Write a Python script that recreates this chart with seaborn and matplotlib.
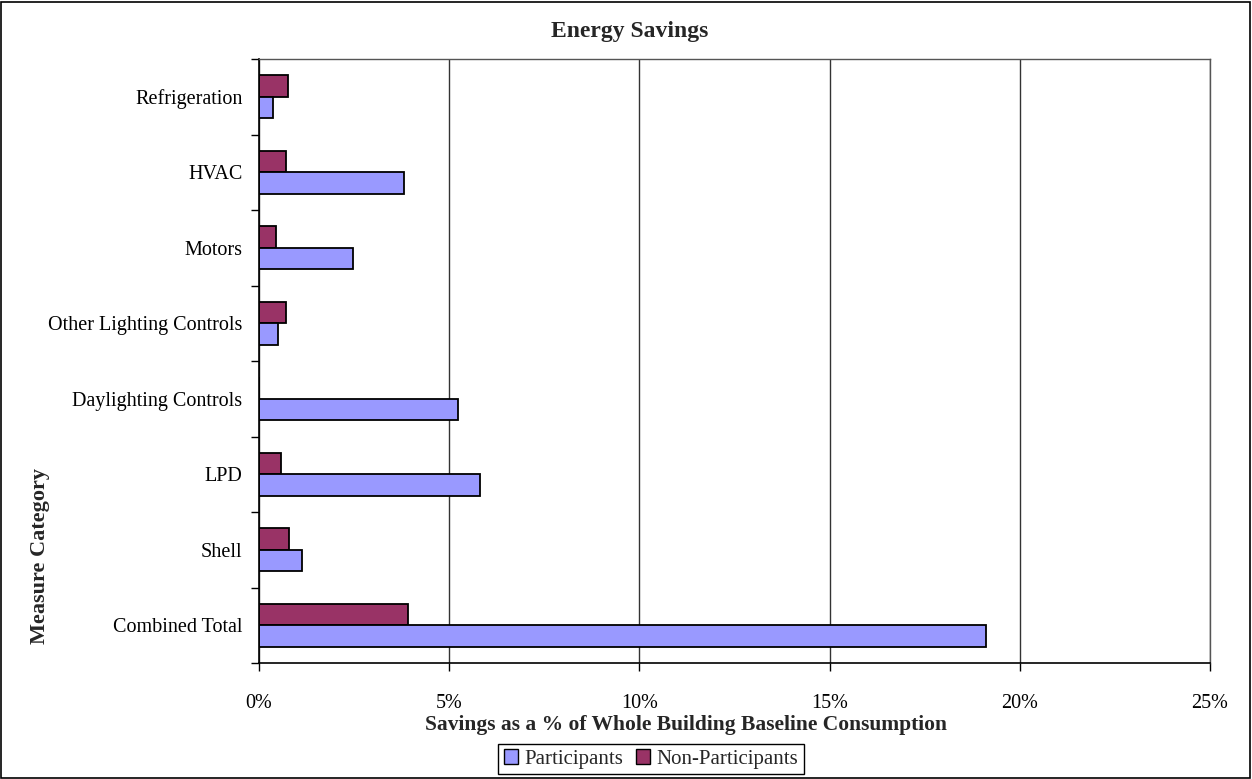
import matplotlib
matplotlib.use("Agg")
import matplotlib.pyplot as plt
from matplotlib.patches import Rectangle, Patch
from matplotlib.ticker import PercentFormatter, FixedLocator
import seaborn as sns
import pandas as pd

categories = ["Refrigeration", "HVAC", "Motors", "Other Lighting Controls",
              "Daylighting Controls", "LPD", "Shell", "Combined Total"]
participants = [0.37, 3.82, 2.46, 0.50, 5.22, 5.80, 1.12, 19.1]
non_participants = [0.76, 0.71, 0.46, 0.71, 0.0, 0.59, 0.78, 3.92]
x_ticks = [0, 5, 10, 15, 20, 25]

series_order = ["Non-Participants", "Participants"]
palette = {"Participants": "#9999FF", "Non-Participants": "#993366"}

df = pd.DataFrame({
    "Measure Category": categories * 2,
    "Savings": participants + non_participants,
    "Group": ["Participants"] * len(categories) + ["Non-Participants"] * len(categories),
})

sns.set_theme(style="white")
plt.rcParams["font.family"] = ["Liberation Serif", "DejaVu Serif"]

fig = plt.figure(figsize=(12.52, 7.79), dpi=100)
ax = fig.add_axes([259 / 1252, 1 - 663 / 779, (1210 - 259) / 1252, (663 - 59) / 779])

sns.barplot(data=df, y="Measure Category", x="Savings", hue="Group",
            hue_order=series_order, order=categories, palette=palette,
            orient="h", width=0.57, errorbar=None, edgecolor="black",
            linewidth=1.3, saturation=1, legend=False, ax=ax)

ax.set_xlim(0, 25)
ax.set_ylim(len(categories) - 0.5, -0.5)
ax.xaxis.set_major_locator(FixedLocator(x_ticks))
ax.xaxis.set_major_formatter(PercentFormatter(decimals=0))
ax.grid(axis="x", color="#333333", linewidth=1.0)
ax.grid(axis="y", visible=False)
ax.set_axisbelow(True)

# category boundary ticks on the category axis
ax.yaxis.set_minor_locator(FixedLocator([i + 0.5 for i in range(-1, len(categories))]))
ax.tick_params(axis="y", which="major", length=0, pad=12, labelsize=14.5, colors="black")
ax.tick_params(axis="y", which="minor", left=True, length=6, width=1, color="black")
ax.tick_params(axis="x", which="major", bottom=True, length=6, width=1, pad=16,
               labelsize=14.5, colors="black", color="black")
ax.set_xlabel("")
ax.set_ylabel("")

for side in ["left", "bottom"]:
    ax.spines[side].set_color("black")
    ax.spines[side].set_linewidth(1.2)
for side in ["top", "right"]:
    ax.spines[side].set_color("#555555")
    ax.spines[side].set_linewidth(1.0)

fig.text(630 / 1252, 1 - 31 / 779, "Energy Savings", ha="center", va="center",
         fontsize=17, fontweight="bold")
fig.text(686 / 1252, 1 - 725 / 779, "Savings as a % of Whole Building Baseline Consumption",
         ha="center", va="center", fontsize=15.5, fontweight="bold")
fig.text(40 / 1252, 1 - 556 / 779, "Measure Category", ha="center", va="center",
         rotation=90, fontsize=16, fontweight="bold")

handles = [Patch(facecolor=palette[g], edgecolor="black", linewidth=1.0)
           for g in ["Participants", "Non-Participants"]]
leg = fig.legend(handles, ["Participants", "Non-Participants"], ncol=2,
                 loc="center", bbox_to_anchor=(651 / 1252, 1 - 759 / 779),
                 frameon=True, fancybox=False, edgecolor="black", fontsize=15,
                 handlelength=0.7, handleheight=0.7, handletextpad=0.3,
                 columnspacing=0.6, borderpad=0.25, framealpha=1)
leg.get_frame().set_linewidth(1.0)

fig.patches.append(Rectangle((1 / 1252, 1 / 779), 1 - 3 / 1252, 1 - 3 / 779,
                             transform=fig.transFigure, fill=False,
                             edgecolor="black", linewidth=1.2))

fig.savefig("out.png", dpi=100)
